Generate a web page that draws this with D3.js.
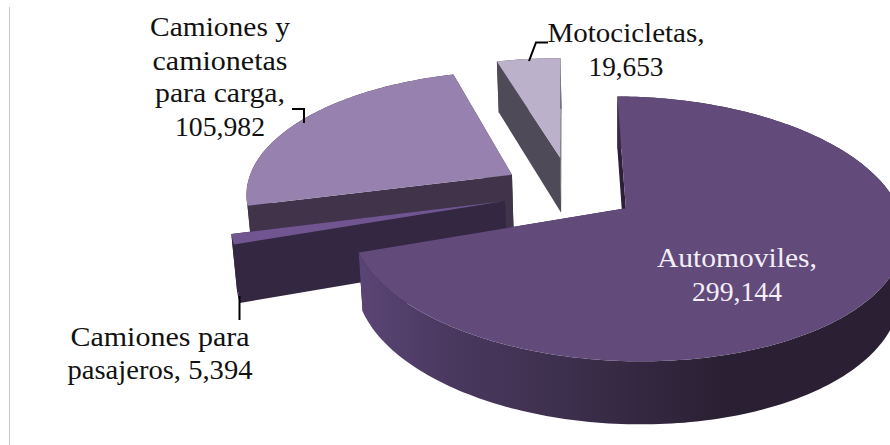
<!DOCTYPE html>
<html><head><meta charset="utf-8">
<script src="https://cdn.jsdelivr.net/npm/d3@7"></script>
<style>html,body{margin:0;background:#fff}svg{display:block}text{font-family:"Liberation Serif",serif;font-size:27px;text-anchor:middle}</style>
</head><body>
<svg id="c" width="890" height="445"></svg>
<script>
const categories = ["Automoviles", "Camiones para pasajeros", "Camiones y camionetas para carga", "Motocicletas"];
const values = [299144, 5394, 105982, 19653];
const valueLabels = ["299,144", "5,394", "105,982", "19,653"];

// Drawing geometry (not data)
const cam = {cx: 621, cy: 209, R: 273, A: 129.5, k: 0.155, lean: 80, depth: 57, depthPow: 0.6, shrink: 0.985};
const explode = [[0.018, 0.005], [-0.426, 0.062], [-0.404, 0.275], [-0.218, 0.421]];
const topFill = ["#624a7b", "#705590", "#9781ae", "#bcb1cb"];
const wallFill = ["#2c2038", "#332742", "#41344a", "#4e4a57"];
const drawOrder = [2, 3, 1, 0];

const svg = d3.select("#c");
const defs = svg.append("defs");
const grad = defs.append("linearGradient").attr("id", "band").attr("gradientUnits", "userSpaceOnUse")
  .attr("x1", 358).attr("x2", 790).attr("y1", 0).attr("y2", 0);
[[0, "#5b4576"], [0.2, "#4b3960"], [0.55, "#392c48"], [0.85, "#2a2033"], [1, "#2a1f33"]]
  .forEach(([o, c]) => grad.append("stop").attr("offset", o).attr("stop-color", c));

// frame line at left
svg.append("line").attr("x1", 9.5).attr("x2", 9.5).attr("y1", 7).attr("y2", 445).attr("stroke", "#c9c9c9").attr("stroke-width", 1);

const pie = d3.pie().sort(null).value(d => d)
  .startAngle(0.7 * Math.PI / 180).endAngle((360 + 0.7) * Math.PI / 180);
const arcs = pie(values);

function project(u, v, low) {
  const s = 1 / (1 + cam.k * v);
  let x = cam.cx + cam.R * u * s + cam.lean * (s - 1);
  let y = cam.cy - cam.A * v * s;
  if (low) { x = cam.cx + (x - cam.cx) * cam.shrink; y += cam.depth * Math.pow(s, cam.depthPow); }
  return [x, y];
}
const line = d3.line();
const path = pts => line(pts) + "Z";

drawOrder.forEach(i => {
  const a = arcs[i], [ou, ov] = explode[i];
  const n = Math.max(4, Math.ceil((a.endAngle - a.startAngle) / 0.02));
  const angles = d3.range(n + 1).map(j => a.startAngle + (a.endAngle - a.startAngle) * j / n);
  const rim = low => angles.map(t => project(ou + Math.sin(t), ov + Math.cos(t), low));
  const apex = low => project(ou, ov, low);
  const g = svg.append("g");
  const wall = wallFill[i];
  // radial edge walls
  [0, n].forEach(j => {
    const t = angles[j];
    g.append("path").attr("fill", wall).attr("d", path([
      project(ou + Math.sin(t), ov + Math.cos(t), false), apex(false), apex(true),
      project(ou + Math.sin(t), ov + Math.cos(t), true)]));
  });
  // outer wall band
  g.append("path").attr("fill", i === 0 ? "url(#band)" : wall)
    .attr("d", path(rim(false).concat(rim(true).reverse())));
  // top surface
  g.append("path").attr("fill", topFill[i]).attr("d", path([apex(false)].concat(rim(false))));
});

// leader lines
const leaders = [
  [[292, 109], [304, 109], [304, 123]],
  [[548, 42.5], [536, 42.5], [529, 61]],
  [[239.5, 296], [239.5, 320]]
];
leaders.forEach(p => svg.append("path").attr("d", d3.line()(p)).attr("fill", "none").attr("stroke", "#000").attr("stroke-width", 2));

// labels
const labels = [
  {x: 220, c: "#111", lines: [["Camiones y", 36, 140], ["camionetas", 70, 135], ["para carga,", 102, 130], [valueLabels[2], 136, 90]]},
  {x: 626, c: "#111", lines: [["Motocicletas,", 42, 157], [valueLabels[3], 76, 75]]},
  {x: 737, c: "#f3eff6", lines: [["Automoviles,", 267, 160], [valueLabels[0], 301, 90]]},
  {x: 160, c: "#111", lines: [["Camiones para", 346, 179], ["pasajeros, " + valueLabels[1], 379, 185]]}
];
labels.forEach(l => l.lines.forEach(([t, y, w]) =>
  svg.append("text").attr("x", l.x).attr("y", y).attr("fill", l.c)
    .attr("textLength", w).attr("lengthAdjust", "spacingAndGlyphs").text(t)));
</script>
</body></html>
